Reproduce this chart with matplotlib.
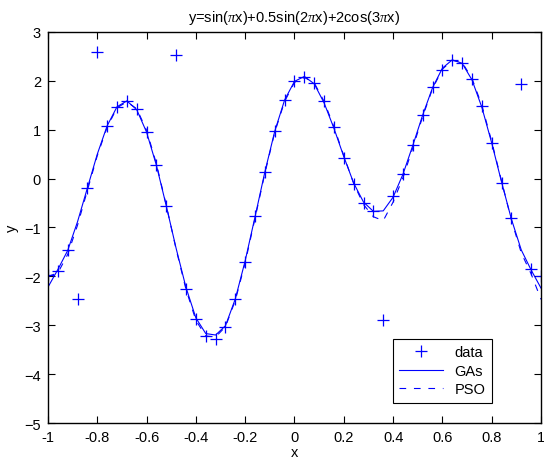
import matplotlib
matplotlib.use("Agg")
import matplotlib.pyplot as plt

# sample points (x) shared by the data and both fitted curves
x = [-1.00, -0.96, -0.92, -0.88, -0.84, -0.80, -0.76, -0.72, -0.68, -0.64,
     -0.60, -0.56, -0.52, -0.48, -0.44, -0.40, -0.36, -0.32, -0.28, -0.24,
     -0.20, -0.16, -0.12, -0.08, -0.04, 0.00, 0.04, 0.08, 0.12, 0.16,
     0.20, 0.24, 0.28, 0.32, 0.36, 0.40, 0.44, 0.48, 0.52, 0.56,
     0.60, 0.64, 0.68, 0.72, 0.76, 0.80, 0.84, 0.88, 0.92, 0.96, 1.00]

# noisy samples (with a few outliers)
data = [-1.98, -1.88, -1.46, -2.46, -0.20, 2.59, 1.08, 1.46, 1.58, 1.42,
        0.96, 0.28, -0.57, 2.52, -2.25, -2.88, -3.22, -3.29, -3.03, -2.47,
        -1.70, -0.77, 0.13, 0.98, 1.60, 1.99, 2.07, 1.96, 1.58, 1.05,
        0.43, -0.10, -0.50, -0.66, -2.90, -0.36, 0.09, 0.68, 1.30, 1.87,
        2.23, 2.43, 2.37, 2.03, 1.48, 0.72, -0.08, -0.81, 1.93, -1.85, -2.00]

gas = [-2.22, -1.86, -1.47, -0.88, -0.19, 0.50, 1.08, 1.47, 1.59, 1.41,
       0.95, 0.27, -0.56, -1.43, -2.23, -2.85, -3.17, -3.20, -3.01, -2.46,
       -1.68, -0.78, 0.14, 0.97, 1.61, 1.99, 2.09, 1.94, 1.55, 1.03,
       0.45, -0.09, -0.48, -0.67, -0.66, -0.38, 0.09, 0.68, 1.30, 1.86,
       2.26, 2.43, 2.36, 2.02, 1.46, 0.73, -0.07, -0.83, -1.46, -1.87, -2.24]

pso = [-2.00, -1.93, -1.55, -0.95, -0.24, 0.47, 1.05, 1.45, 1.57, 1.43,
       0.99, 0.30, -0.55, -1.45, -2.27, -2.90, -3.22, -3.24, -3.03, -2.49,
       -1.72, -0.81, 0.11, 0.95, 1.58, 1.97, 2.07, 1.96, 1.58, 1.06,
       0.47, -0.10, -0.53, -0.78, -0.86, -0.48, 0.02, 0.63, 1.27, 1.84,
       2.24, 2.42, 2.38, 2.05, 1.50, 0.76, -0.05, -0.85, -1.52, -1.95, -2.47]

xticks = [-1, -0.8, -0.6, -0.4, -0.2, 0, 0.2, 0.4, 0.6, 0.8, 1]
xticklabels = ['-1', '-0.8', '-0.6', '-0.4', '-0.2', '0', '0.2', '0.4', '0.6', '0.8', '1']
yticks = [-5, -4, -3, -2, -1, 0, 1, 2, 3]

blue = '#0000ff'
fs = 10.5

plt.rcParams['font.family'] = ['Liberation Sans', 'DejaVu Sans']
plt.rcParams['mathtext.fontset'] = 'custom'
plt.rcParams['mathtext.it'] = 'Liberation Serif:italic'

fig = plt.figure(figsize=(5.44, 4.64), dpi=100)
ax = fig.add_axes([0.0882, 0.0862, 0.9063, 0.8427])

ax.plot(x, data, '+', color=blue, markersize=9, markeredgewidth=0.9, label='data')
ax.plot(x, gas, '-', color=blue, linewidth=0.8, label='GAs')
ax.plot(x, pso, '--', color=blue, linewidth=0.8, dashes=(6, 7), label='PSO')

ax.set_xlim(-1, 1)
ax.set_ylim(-5, 3)
ax.set_xticks(xticks)
ax.set_xticklabels(xticklabels)
ax.set_yticks(yticks)
ax.tick_params(direction='in', top=True, right=True, length=5, width=0.8,
               labelsize=fs, pad=5)
for s in ax.spines.values():
    s.set_linewidth(1.0)

ax.set_xlabel('x', fontsize=fs, labelpad=1)
ax.set_ylabel('y', fontsize=fs, labelpad=4)
ax.set_title(r'y=sin($\pi$x)+0.5sin(2$\pi$x)+2cos(3$\pi$x)', fontsize=fs, pad=8)

leg = ax.legend(loc='lower right', bbox_to_anchor=(0.9006, 0.052), borderaxespad=0,
                fontsize=fs, handlelength=3.0, fancybox=False, framealpha=1,
                edgecolor='black', borderpad=0.45, labelspacing=0.3, handletextpad=0.8)
leg.get_frame().set_linewidth(0.8)

fig.savefig('out.png', dpi=100)
